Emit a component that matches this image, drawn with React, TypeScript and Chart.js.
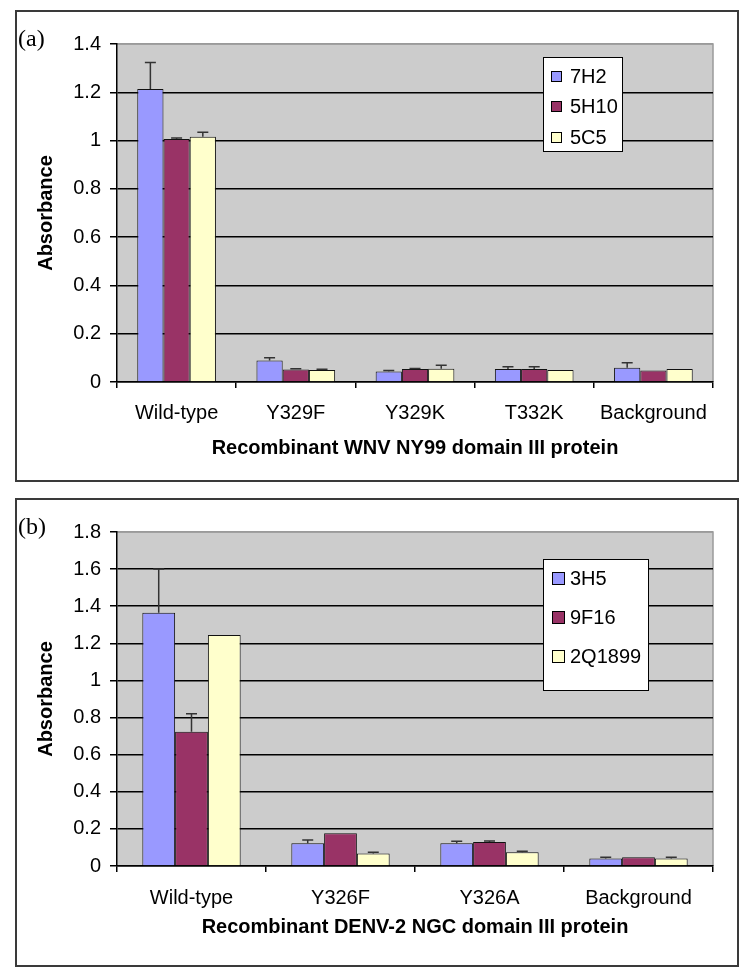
import React, { useEffect, useRef } from "react";
import { Chart, registerables } from "chart.js";

Chart.register(...registerables);

// ---------- Panel (a) data ----------
const categoriesA = ["Wild-type", "Y329F", "Y329K", "T332K", "Background"];
const namesA = ["7H2", "5H10", "5C5"];
const values7H2 = [1.214, 0.089, 0.044, 0.054, 0.059];
const errors7H2 = [0.109, 0.011, 0.004, 0.009, 0.021];
const values5H10 = [1.007, 0.052, 0.054, 0.054, 0.048];
const errors5H10 = [0.004, 0.003, 0.002, 0.009, 0.0];
const values5C5 = [1.016, 0.05, 0.055, 0.05, 0.054];
const errors5C5 = [0.018, 0.003, 0.014, 0.0, 0.0];
const yTicksA = [0, 0.2, 0.4, 0.6, 0.8, 1, 1.2, 1.4];

// ---------- Panel (b) data ----------
const categoriesB = ["Wild-type", "Y326F", "Y326A", "Background"];
const namesB = ["3H5", "9F16", "2Q1899"];
const values3H5 = [1.365, 0.122, 0.122, 0.041];
const errors3H5 = [0.235, 0.018, 0.011, 0.006];
const values9F16 = [0.724, 0.176, 0.129, 0.047];
const errors9F16 = [0.096, 0.0, 0.006, 0.0];
const values2Q1899 = [1.245, 0.068, 0.074, 0.041];
const errors2Q1899 = [0.0, 0.006, 0.006, 0.006];
const yTicksB = [0, 0.2, 0.4, 0.6, 0.8, 1, 1.2, 1.4, 1.6, 1.8];

const seriesColors = ["#9999FF", "#993366", "#FFFFCC"];

const FONT = "'Liberation Sans', Arial, Helvetica, sans-serif";

const plotBgPlugin = {
  id: "plotBg",
  beforeDraw(chart: any) {
    const { ctx, chartArea } = chart;
    const { left, top, right, bottom } = chartArea;
    ctx.save();
    ctx.fillStyle = "#cccccc";
    ctx.fillRect(left, top, right - left, bottom - top);
    ctx.strokeStyle = "#9a9a9a";
    ctx.lineWidth = 1.5;
    ctx.beginPath();
    ctx.moveTo(left, top);
    ctx.lineTo(right, top);
    ctx.lineTo(right, bottom);
    ctx.stroke();
    ctx.restore();
  },
};

const errorBarPlugin = {
  id: "errorBars",
  afterDatasetsDraw(chart: any, _args: any, opts: any) {
    const { ctx } = chart;
    const yScale = chart.scales.y;
    chart.data.datasets.forEach((ds: any, di: number) => {
      const errs = opts.errors[di];
      const meta = chart.getDatasetMeta(di);
      meta.data.forEach((bar: any, i: number) => {
        const e = errs[i];
        if (!e) return;
        const v = ds.data[i];
        const x = bar.x;
        const y0 = yScale.getPixelForValue(v);
        const y1 = yScale.getPixelForValue(v + e);
        ctx.save();
        ctx.strokeStyle = "#333333";
        ctx.lineWidth = 1.5;
        ctx.beginPath();
        ctx.moveTo(x, y0);
        ctx.lineTo(x, y1);
        ctx.moveTo(x - opts.cap / 2, y1);
        ctx.lineTo(x + opts.cap / 2, y1);
        ctx.stroke();
        ctx.restore();
      });
    });
  },
};

const boxLegendPlugin = {
  id: "boxLegend",
  afterDraw(chart: any, _args: any, opts: any) {
    const { ctx } = chart;
    const b = opts.box;
    ctx.save();
    ctx.fillStyle = "#ffffff";
    ctx.fillRect(b.x, b.y, b.w, b.h);
    ctx.strokeStyle = "#000000";
    ctx.lineWidth = 1;
    ctx.strokeRect(b.x + 0.5, b.y + 0.5, b.w, b.h);
    ctx.font = `${opts.fontSize}px ${FONT}`;
    ctx.textBaseline = "middle";
    ctx.textAlign = "left";
    chart.data.datasets.forEach((ds: any, i: number) => {
      const cy = opts.itemY[i];
      ctx.fillStyle = ds.backgroundColor;
      ctx.fillRect(opts.swatchX, cy - opts.swatch / 2, opts.swatch, opts.swatch);
      ctx.strokeStyle = "#000";
      ctx.strokeRect(opts.swatchX + 0.5, cy - opts.swatch / 2 + 0.5, opts.swatch, opts.swatch);
      ctx.fillStyle = "#000";
      ctx.fillText(ds.label, opts.textX, cy + 1);
    });
    ctx.restore();
  },
};

function makeConfig(p: any) {
  const yMax = p.yTicks[p.yTicks.length - 1];
  return {
    type: "bar",
    data: {
      labels: p.categories,
      datasets: p.names.map((n: string, i: number) => ({
        label: n,
        data: p.values[i],
        backgroundColor: seriesColors[i],
        borderColor: "#111111",
        borderWidth: 1,
        barPercentage: 1.0,
        categoryPercentage: 0.66,
      })),
    },
    plugins: [plotBgPlugin, errorBarPlugin, boxLegendPlugin],
    options: {
      responsive: false,
      animation: false,
      devicePixelRatio: 1,
      layout: { padding: { left: 0, top: 34, right: p.padRight, bottom: 0 } },
      plugins: {
        legend: { display: false },
        tooltip: { enabled: false },
        errorBars: { errors: p.errors, cap: 11 },
        boxLegend: p.legend,
      },
      scales: {
        x: {
          type: "category",
          afterFit: (s: any) => {
            s.height = p.xAxisHeight;
          },
          grid: {
            offset: true,
            drawOnChartArea: false,
            drawTicks: true,
            tickLength: 6,
            color: "#000",
            tickColor: "#000",
            lineWidth: 1.5,
          },
          border: { display: true, color: "#000", width: 1.5 },
          ticks: {
            color: "#000",
            padding: p.xTickPad,
            font: { family: FONT, size: 20 },
            maxRotation: 0,
            autoSkip: false,
          },
          title: {
            display: true,
            text: p.xTitle,
            color: "#000",
            font: { family: FONT, size: 20, weight: "bold" },
            padding: { top: 0, bottom: p.xTitlePadBottom },
          },
        },
        y: {
          min: 0,
          max: yMax,
          afterFit: (s: any) => {
            s.width = 102;
          },
          afterBuildTicks: (s: any) => {
            s.ticks = p.yTicks.map((v: number) => ({ value: v }));
          },
          grid: {
            drawTicks: true,
            tickLength: 7,
            color: (c: any) => (c.tick && Math.abs(c.tick.value - yMax) < 1e-9 ? "#9a9a9a" : "#000"),
            tickColor: "#000",
            lineWidth: 1.5,
          },
          border: { display: true, color: "#000", width: 1.5 },
          ticks: {
            color: "#000",
            padding: 9,
            font: { family: FONT, size: 20 },
            callback: (v: any) => String(Math.round(Number(v) * 10) / 10),
          },
          title: {
            display: true,
            text: "Absorbance",
            color: "#000",
            font: { family: FONT, size: 20, weight: "bold" },
            padding: { top: 19, bottom: 0 },
          },
        },
      },
    },
  };
}

function ChartPanel(props: { config: any; width: number; height: number; left: number; top: number; tag: string; tagTop: number }) {
  const ref = useRef<HTMLCanvasElement>(null);
  useEffect(() => {
    const chart = new Chart(ref.current as HTMLCanvasElement, props.config);
    return () => chart.destroy();
  }, []);
  return (
    <>
      <canvas
        ref={ref}
        width={props.width}
        height={props.height}
        style={{ position: "absolute", left: props.left, top: props.top, width: props.width, height: props.height }}
      />
      <div
        style={{
          position: "absolute",
          left: props.left,
          top: props.top,
          width: props.width,
          height: props.height,
          boxSizing: "border-box",
          border: "2px solid #3a3a3a",
          pointerEvents: "none",
        }}
      />
      <span
        style={{
          position: "absolute",
          left: props.left + 3,
          top: props.tagTop,
          fontFamily: "'Liberation Serif', 'Times New Roman', serif",
          fontSize: 24,
          lineHeight: "24px",
          color: "#000",
        }}
      >
        {props.tag}
      </span>
    </>
  );
}

export default function App() {
  const configA = makeConfig({
    categories: categoriesA,
    names: namesA,
    values: [values7H2, values5H10, values5C5],
    errors: [errors7H2, errors5H10, errors5C5],
    yTicks: yTicksA,
    padRight: 26,
    xAxisHeight: 100,
    xTickPad: 13,
    xTitle: "Recombinant WNV NY99 domain III protein",
    xTitlePadBottom: 22,
    legend: {
      box: { x: 528, y: 47, w: 79, h: 94 },
      itemY: [66, 96, 127],
      swatchX: 536,
      swatch: 10,
      textX: 555,
      fontSize: 20,
    },
  });
  const configB = makeConfig({
    categories: categoriesB,
    names: namesB,
    values: [values3H5, values9F16, values2Q1899],
    errors: [errors3H5, errors9F16, errors2Q1899],
    yTicks: yTicksB,
    padRight: 26,
    xAxisHeight: 101,
    xTickPad: 14,
    xTitle: "Recombinant DENV-2 NGC domain III protein",
    xTitlePadBottom: 28,
    legend: {
      box: { x: 528, y: 61, w: 105, h: 131 },
      itemY: [80, 119, 158],
      swatchX: 537,
      swatch: 12,
      textX: 555,
      fontSize: 20,
    },
  });
  return (
    <div style={{ position: "absolute", left: 0, top: 0, width: 747, height: 971, background: "#fff" }}>
      <ChartPanel config={configA} width={724} height={472} left={15} top={10} tag="(a)" tagTop={26} />
      <ChartPanel config={configB} width={724} height={469} left={15} top={498} tag="(b)" tagTop={514} />
    </div>
  );
}
